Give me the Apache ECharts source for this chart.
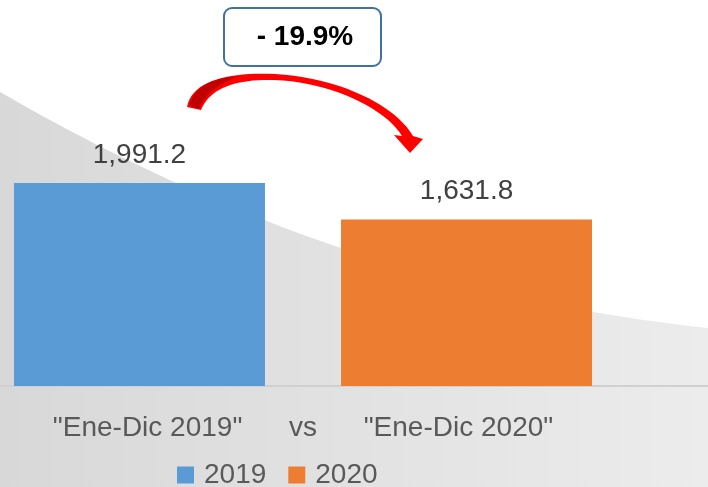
<!DOCTYPE html>
<html>
<head>
<meta charset="utf-8">
<script src="https://cdn.jsdelivr.net/npm/echarts@6/dist/echarts.min.js"></script>
<style>
  html, body { margin: 0; padding: 0; background: #fff; }
  #main { width: 708px; height: 487px; }
</style>
</head>
<body>
<div id="main"></div>
<script>
// datos del grafico
const categories = ['"Ene-Dic 2019"      vs      "Ene-Dic 2020"'];
const seriesNames = ['2019', '2020'];
const values2019 = [1991.2];
const values2020 = [1631.8];
const changeLabel = '- 19.9%';

const colors = ['#5B9BD5', '#ED7D31'];

const myChart = echarts.init(document.getElementById('main'));

function fmt(v) {
  return v.toLocaleString('en-US', { minimumFractionDigits: 1, maximumFractionDigits: 1 });
}

// puntos de una curva bezier cubica (solo para la decoracion)
function bez(p0, p1, p2, p3, n) {
  const pts = [];
  for (let i = 0; i <= n; i++) {
    const t = i / n, u = 1 - t;
    pts.push([
      u * u * u * p0[0] + 3 * u * u * t * p1[0] + 3 * u * t * t * p2[0] + t * t * t * p3[0],
      u * u * u * p0[1] + 3 * u * u * t * p1[1] + 3 * u * t * t * p2[1] + t * t * t * p3[1]
    ]);
  }
  return pts;
}

const bgPts = bez([0, 92], [170, 190], [400, 295], [708, 328], 40).concat([[708, 487], [0, 487]]);

const arrowPts = []
  .concat(bez([187, 107], [192, 80], [230, 72], [275, 74], 20))
  .concat(bez([275, 74], [340, 78], [395, 105], [413, 136], 20))
  .concat([[423, 139], [410, 153], [394, 135], [402, 136]])
  .concat(bez([402, 136], [385, 108], [330, 82], [275, 80], 20))
  .concat(bez([275, 80], [235, 79], [210, 88], [201, 110], 20));

const shadePts = []
  .concat(bez([189, 106], [194, 86], [212, 78], [240, 76], 12))
  .concat(bez([240, 76], [222, 82], [206, 92], [199, 109], 12));

const labelStyle = {
  show: true,
  position: 'top',
  distance: 14,
  fontSize: 28,
  color: '#404040',
  fontFamily: 'Liberation Sans',
  formatter: (p) => fmt(p.value)
};

myChart.setOption({
  animation: false,
  color: colors,
  grid: { left: 0, right: 102, top: 131, bottom: 101 },
  legend: {
    data: seriesNames,
    left: 172,
    top: 456,
    itemWidth: 17,
    itemHeight: 17,
    itemGap: 22,
    icon: 'rect',
    textStyle: { fontSize: 28, color: '#595959', fontFamily: 'Liberation Sans', padding: [0, 0, 0, 5] }
  },
  xAxis: {
    type: 'category',
    data: categories,
    axisLine: { lineStyle: { color: '#d0d0d0', width: 2 } },
    axisTick: { show: false },
    axisLabel: { fontSize: 28, color: '#595959', fontFamily: 'Liberation Sans', margin: 28 }
  },
  yAxis: {
    type: 'value',
    min: 0,
    max: 2500,
    show: false,
    splitLine: { show: false }
  },
  graphic: [
    {
      // fondo gris curvo
      type: 'polygon',
      z: -10,
      silent: true,
      shape: { points: bgPts },
      style: {
        fill: {
          type: 'linear', x: 0, y: 0, x2: 1, y2: 0,
          colorStops: [
            { offset: 0, color: '#d8d8d8' },
            { offset: 1, color: '#ececec' }
          ]
        }
      }
    },
    {
      // prolongacion de la linea base hasta el borde
      type: 'line',
      z: 1,
      silent: true,
      shape: { x1: 600, y1: 386, x2: 708, y2: 386 },
      style: { stroke: '#d0d0d0', lineWidth: 2 }
    },
    {
      // flecha roja
      type: 'polygon',
      z: 50,
      silent: true,
      shape: { points: arrowPts },
      style: { fill: '#ff0000' }
    },
    {
      type: 'polygon',
      z: 51,
      silent: true,
      shape: { points: shadePts },
      style: { fill: '#c00000' }
    },
    {
      type: 'rect',
      z: 50,
      silent: true,
      shape: { x: 224, y: 8, width: 157, height: 58, r: 8 },
      style: { fill: '#ffffff', stroke: '#41719C', lineWidth: 2 }
    },
    {
      type: 'text',
      z: 52,
      silent: true,
      x: 305,
      y: 37,
      style: {
        text: changeLabel,
        fontSize: 28,
        fontWeight: 'bold',
        fontFamily: 'Liberation Sans',
        fill: '#000',
        align: 'center',
        verticalAlign: 'middle'
      }
    }
  ],
  series: [
    {
      name: seriesNames[0],
      type: 'bar',
      data: values2019,
      barWidth: 251,
      barGap: '30.3%',
      label: labelStyle
    },
    {
      name: seriesNames[1],
      type: 'bar',
      data: values2020,
      barWidth: 251,
      label: labelStyle
    }
  ]
});
</script>
</body>
</html>
